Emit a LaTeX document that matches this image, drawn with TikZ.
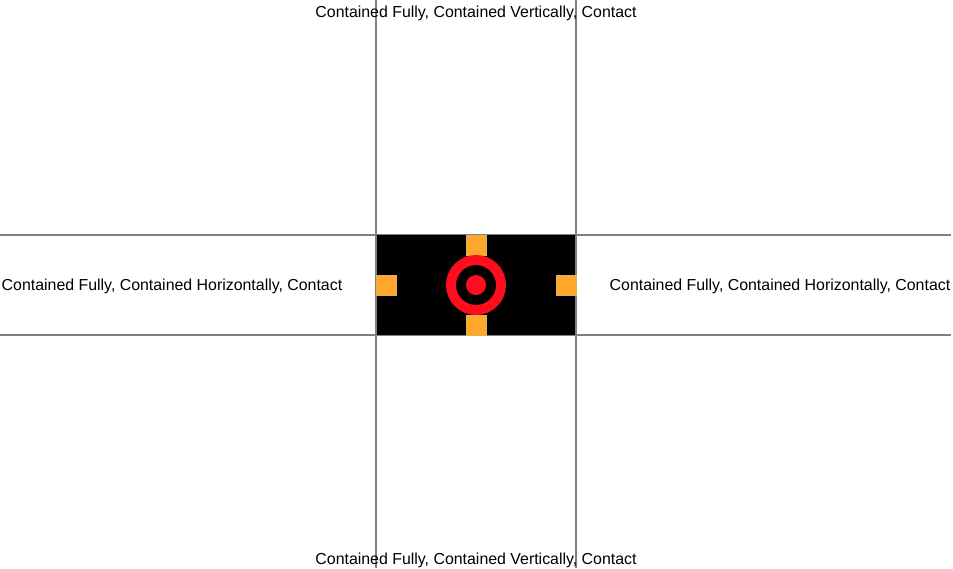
\documentclass[tikz,border=0pt]{standalone}
\usepackage{fontspec}
\setmainfont{Liberation Sans}
\definecolor{gridgray}{HTML}{808080}
\definecolor{portfill}{HTML}{FFA62B}
\definecolor{portline}{HTML}{D6B656}
\definecolor{targetred}{HTML}{FF0D1F}
\begin{document}
\begin{tikzpicture}[x=1pt,y=-1pt,
  gline/.style={draw=gridgray,line width=1.3pt},
  port/.style={draw=portline,fill=portfill,line width=0.9pt,minimum size=20pt,inner sep=0pt,anchor=north west},
  lbl/.style={font=\fontsize{15.9}{18}\selectfont,inner sep=0pt}]
\useasboundingbox (0,0) rectangle (953,568);
\fill[white] (0,0) rectangle (953,568);
% lines
\coordinate (v1t) at (376,0); \coordinate (v1b) at (376,568);
\coordinate (v2t) at (576,0); \coordinate (v2b) at (576,568);
\coordinate (h1l) at (0,235); \coordinate (h1r) at (951,235);
\coordinate (h2l) at (0,335); \coordinate (h2r) at (951,335);
\draw[gline] (h1l) -- (h1r);
\draw[gline] (h2l) -- (h2r);
% black box
\fill[black] (376,235) rectangle (576,335);
\draw[gline] (v1t) -- (v1b);
\draw[gline] (v2t) -- (v2b);
% ports
\node[port] (pt) at (466,235) {};
\node[port] (pl) at (376,275) {};
\node[port] (pr) at (555.5,275) {};
\node[port] (pb) at (466,315) {};
% target
\draw[targetred,line width=10pt] (476,285) circle[radius=25];
\fill[targetred] (476,285) circle[radius=10];
% labels
\node[lbl] (top) at (476,13.5) {Contained Fully, Contained Vertically, Contact};
\node[lbl] (bot) at (476,560.5) {Contained Fully, Contained Vertically, Contact};
\node[lbl] (left) at (172,286) {Contained Fully, Contained Horizontally, Contact};
\node[lbl] (right) at (780,286) {Contained Fully, Contained Horizontally, Contact};
\end{tikzpicture}
\end{document}
